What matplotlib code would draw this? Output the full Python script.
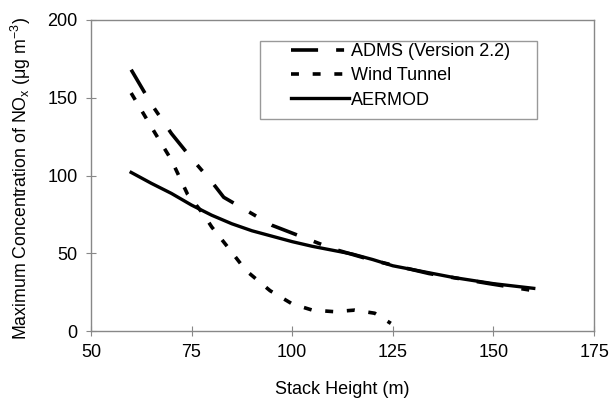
import numpy as np
import matplotlib
matplotlib.use("Agg")
import matplotlib.pyplot as plt
from matplotlib.patches import Rectangle

plt.rcParams['font.family'] = ['Liberation Sans', 'DejaVu Sans']

# values
adms_x = [60, 65, 70, 75, 80, 83, 87, 95, 105, 110, 120, 134, 149, 160]
adms_y = [168, 146, 127, 111, 96, 86, 80, 68, 58, 53, 45.5, 37, 30.5, 26]

tunnel_x = [60, 66, 70, 74, 78, 80, 84, 88.5, 91.5, 94.5, 100, 105, 110.5, 115.5, 120.5, 124.5]
tunnel_y = [153, 127, 110, 88, 75, 67, 54, 39, 32.5, 26, 17.5, 13.5, 12.5, 13.5, 11.5, 5]

aermod_x = [60, 65, 70, 75, 80, 85, 90, 95, 100, 105, 110, 115, 120, 125, 130, 135, 140, 145, 150, 155, 160]
aermod_y = [102, 95, 88.5, 81, 74.5, 69, 64.5, 61, 57.5, 54.5, 52, 49.5, 46, 42, 39.5, 37, 34.5, 32.5, 30.5, 29, 27.5]

xticks = [50, 75, 100, 125, 150, 175]
yticks = [0, 50, 100, 150, 200]

fig = plt.figure(figsize=(6.1, 3.98), dpi=100)
ax = fig.add_axes([0.149, 0.168, 0.825, 0.782])

ax.plot(adms_x, adms_y, color='black', lw=2.6, dashes=(7.5, 5, 2.2, 5),
        label='ADMS (Version 2.2)')
ax.plot(tunnel_x, tunnel_y, color='black', lw=2.6, dashes=(2.2, 3.8),
        label='Wind Tunnel')
ax.plot(aermod_x, aermod_y, color='black', lw=2.4, label='AERMOD')

ax.set_xlim(50, 175)
ax.set_ylim(0, 200)
ax.set_xticks(xticks)
ax.set_yticks(yticks)
ax.tick_params(labelsize=13, color='#888888', direction='inout', length=7, pad=6)
for s in ax.spines.values():
    s.set_color('#888888')
    s.set_linewidth(1.0)

ax.set_xlabel('Stack Height (m)', fontsize=13, labelpad=14)
ax.set_ylabel(r'Maximum Concentration of NO$\mathregular{_x}$ ($\mathregular{\mu}$g m$\mathregular{^{-3}}$)',
              fontsize=12.8)
ax.yaxis.set_label_coords(-0.115, 0.49)

# legend box drawn separately, as in the original it is wider than its content
ax.add_patch(Rectangle((0.336, 0.682), 0.551, 0.250, transform=ax.transAxes,
                       facecolor='white', edgecolor='#999999', lw=1.0, zorder=3))
leg = ax.legend(loc='upper left', bbox_to_anchor=(0.398, 0.925), fontsize=13,
                handlelength=3.2, handletextpad=0.1, frameon=False,
                borderpad=0, labelspacing=0.4, borderaxespad=0)
leg.set_zorder(4)

fig.savefig('out.png', dpi=100)
